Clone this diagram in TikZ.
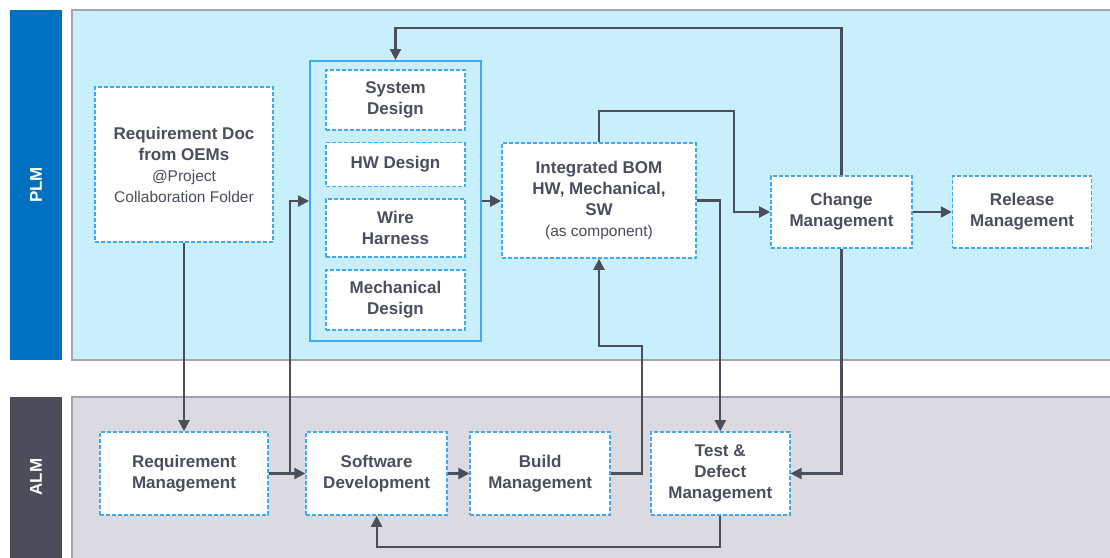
\documentclass[tikz,border=0pt]{standalone}
\usepackage{fontspec}
\setmainfont{Liberation Sans}
\usetikzlibrary{arrows.meta,positioning}
\definecolor{plmblue}{HTML}{0070C0}
\definecolor{plmbg}{HTML}{C9EFFD}
\definecolor{almdark}{HTML}{4B4D5A}
\definecolor{almbg}{HTML}{DBDAE0}
\definecolor{boxline}{HTML}{3FA9F5}
\definecolor{ink}{HTML}{4B4E5B}
\definecolor{laneline}{HTML}{A4A4AE}
\newcommand{\subtxt}[1]{{\mdseries\fontsize{15.5}{18}\selectfont #1}}

\begin{document}
\begin{tikzpicture}[x=1pt,y=-1pt,
	flow node/.style={draw=boxline, line width=1.6pt, dash pattern=on 4pt off 2pt, fill=white, text=ink, align=center, inner sep=0pt, font=\fontsize{17}{21}\selectfont\bfseries},
	group box/.style={draw=boxline, line width=1.9pt, inner sep=0pt},
	lane label/.style={text=white, rotate=90, font=\fontsize{17}{21}\selectfont\bfseries},
	link/.style={-{Triangle[length=11pt,width=11pt]}, draw=ink, line width=2.2pt}]
			
			\useasboundingbox (0,0) rectangle (1110,557);
			
			% swim lanes
			\fill[plmblue] (10,10) rectangle (62,360);
			\filldraw[fill=plmbg, draw=laneline, line width=1.6pt] (72,10) rectangle (1114,360);
			\fill[almdark] (10,397) rectangle (62,560);
			\filldraw[fill=almbg, draw=laneline, line width=1.6pt] (72,397) rectangle (1114,562);
			\node[lane label] (plm) at (36,185) {PLM};
			\node[lane label] (alm) at (36,477) {ALM};
			
			% PLM
			\node[flow node, minimum width=178pt, minimum height=155pt] (reqdoc) at (184,164.5) {Requirement Doc\\from OEMs\\\subtxt{@Project}\\\subtxt{Collaboration Folder}};
			\node[group box, fill=plmbg, minimum width=171pt, minimum height=280pt] (group) at (395.5,201) {};
			\node[flow node, minimum width=139pt, minimum height=60pt] (sysdes) at (395.5,100) {System\\Design};
			\node[flow node, minimum width=139pt, minimum height=44pt] (hwdes) [below=11pt of sysdes] {HW Design};
			\node[flow node, minimum width=139pt, minimum height=58pt] (wire) [below=11pt of hwdes] {Wire\\Harness};
			\node[flow node, minimum width=139pt, minimum height=60pt] (mech) [below=11pt of wire] {Mechanical\\Design};
			\node[flow node, minimum width=194pt, minimum height=115pt] (bom) at (599,200.5) {Integrated BOM\\HW, Mechanical,\\SW\\\subtxt{(as component)}};
			\node[flow node, minimum width=141pt, minimum height=72pt] (change) at (841.5,212) {Change\\Management};
			\node[flow node, minimum width=139pt, minimum height=72pt] (release) [right=39pt of change] {Release\\Management};
			
			% ALM
			\node[flow node, minimum width=168pt, minimum height=83pt] (reqmgmt) at (184,473.5) {Requirement\\Management};
			\node[flow node, minimum width=141pt, minimum height=83pt] (swdev) [right=36.5pt of reqmgmt] {Software\\Development};
			\node[flow node, minimum width=140pt, minimum height=83pt] (build) [right=21.5pt of swdev] {Build\\Management};
			\node[flow node, minimum width=139pt, minimum height=83pt] (test) [right=39pt of build] {Test \&\\Defect\\Management};
			
			% connectors
			\draw[link] (reqdoc.south) -- (reqmgmt.north);
			\draw[link] (reqmgmt.east) -- (swdev.west);
			\draw[link] ([xshift=21pt]reqmgmt.east) |- (group.west);
			\draw[link] (swdev.east) -- (build.west);
			\draw[link] (build.east) -| ([xshift=43pt,yshift=-87pt]bom.south) -| (bom.south);
			\draw[link] (group.east) -- (group.east -| bom.west);
			\draw[link] (bom.north) -- ++(0,-31) -| ([xshift=-36pt]change.west) -- (change.west);
			\draw[link] (bom.east) -| (test.north);
			\draw[link] (change.north) -- ++(0,-147) -| (group.north);
			\draw[link] (change.east) -- (release.west);
			\draw[link] (change.south) |- (test.east);
			\draw[link] (test.south) -- ++(0,31) -| (swdev.south);
			
		\end{tikzpicture}
\end{document}
